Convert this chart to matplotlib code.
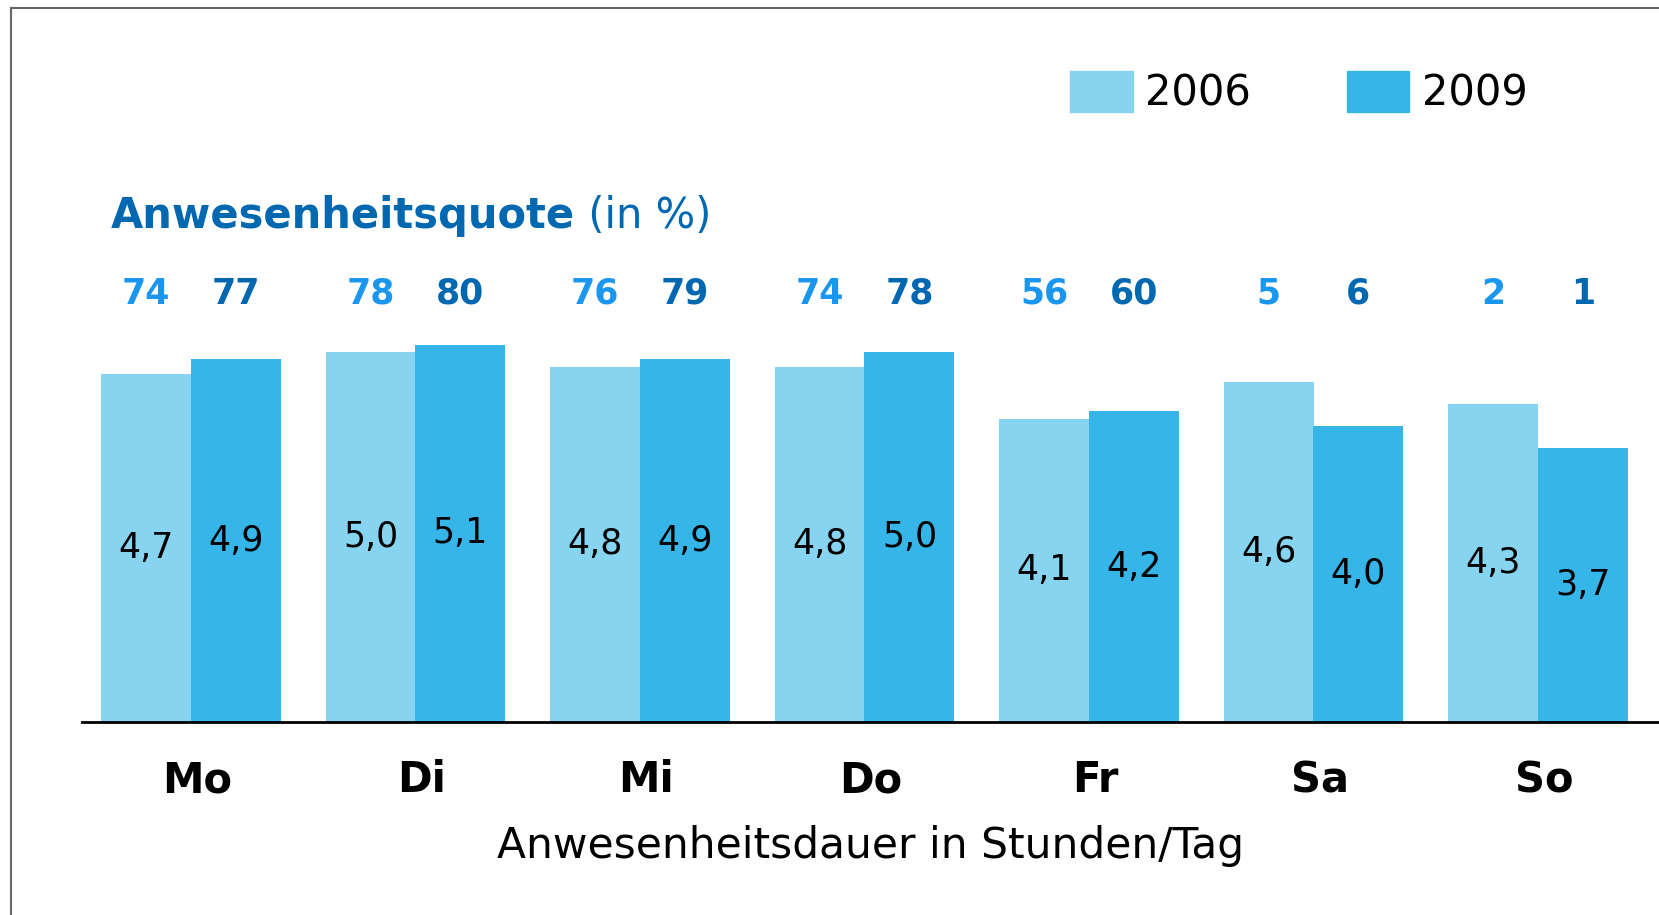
import matplotlib.pyplot as plt
from matplotlib.lines import Line2D
from matplotlib.patches import Patch
import matplotlib.transforms as mtransforms
import numpy as np

days = ["Mo", "Di", "Mi", "Do", "Fr", "Sa", "So"]
hours_2006 = [4.7, 5.0, 4.8, 4.8, 4.1, 4.6, 4.3]
hours_2009 = [4.9, 5.1, 4.9, 5.0, 4.2, 4.0, 3.7]
quote_2006 = [74, 78, 76, 74, 56, 5, 2]
quote_2009 = [77, 80, 79, 78, 60, 6, 1]

c2006 = "#87d4f1"
c2009 = "#35b5e8"
q2006 = "#1a96ee"
q2009 = "#0068b1"

plt.rcParams['font.family'] = ['DejaVu Sans']

W, H = 1659, 915
fig = plt.figure(figsize=(W / 100, H / 100), dpi=100)

# axes placed in pixel terms: baseline at y=722 px from top, line starts at x=82
left, base = 82, 722
ax = fig.add_axes([left / W, (H - base) / H, 1 - left / W, base / H])
spacing = 224.5
first = 191
ax.set_xlim((left - first) / spacing, (W - first) / spacing)
ax.set_ylim(0, base / 74.0)

x = np.arange(len(days))
bw = 0.40
ax.bar(x - bw / 2, hours_2006, width=bw, color=c2006, label="2006")
ax.bar(x + bw / 2, hours_2009, width=bw, color=c2009, label="2009")

for i in range(len(days)):
	ax.text(x[i] - bw / 2, hours_2006[i] / 2, f"{hours_2006[i]:.1f}".replace(".", ","),
		ha="center", va="center", fontsize=25, color="black")
	ax.text(x[i] + bw / 2, hours_2009[i] / 2, f"{hours_2009[i]:.1f}".replace(".", ","),
		ha="center", va="center", fontsize=25, color="black")

yq = 1 - 294 / H
tq = mtransforms.blended_transform_factory(ax.transData, fig.transFigure)
for i in range(len(days)):
	ax.text(x[i] - bw / 2, yq, str(quote_2006[i]), transform=tq, ha="center", va="center",
		fontsize=25, fontweight="bold", color=q2006)
	ax.text(x[i] + bw / 2, yq, str(quote_2009[i]), transform=tq, ha="center", va="center",
		fontsize=25, fontweight="bold", color=q2009)

for s in ["top", "right", "left"]:
	ax.spines[s].set_visible(False)
ax.spines["bottom"].set_linewidth(2)
ax.spines["bottom"].set_color("black")
ax.set_yticks([])
# day labels sit a little right of the group centre in the original
ax.set_xticks(x + 0.028)
ax.set_xticklabels(days, fontsize=30, fontweight="bold")
ax.tick_params(axis="x", length=0, pad=27)
ax.set_xlabel("Anwesenheitsdauer in Stunden/Tag", fontsize=30.5, labelpad=17)

# title
t = fig.text(111 / W, 1 - 216 / H, "Anwesenheitsquote", fontsize=30, fontweight="bold",
	color=q2009, ha="left", va="center")
fig.canvas.draw()
bb = t.get_window_extent()
fig.text(bb.x1 / W, 1 - 216 / H, " (in %)", fontsize=30, color=q2009, ha="left", va="center")

handles = [Patch(color=c2006, label="2006"), Patch(color=c2009, label="2009")]
fig.legend(handles=handles, loc="center left", bbox_to_anchor=(1070 / W, 1 - 93 / H),
	ncol=2, frameon=False, fontsize=30, handlelength=1.5, handleheight=1.12,
	handletextpad=0.3, columnspacing=2.3, borderpad=0, borderaxespad=0)

# frame lines
fig.add_artist(Line2D([11 / W, 11 / W], [0, 1 - 8 / H], transform=fig.transFigure, color="#666666", lw=1.5))
fig.add_artist(Line2D([11 / W, 1], [1 - 8 / H, 1 - 8 / H], transform=fig.transFigure, color="#666666", lw=1.5))

plt.savefig("out.png", dpi=100)
